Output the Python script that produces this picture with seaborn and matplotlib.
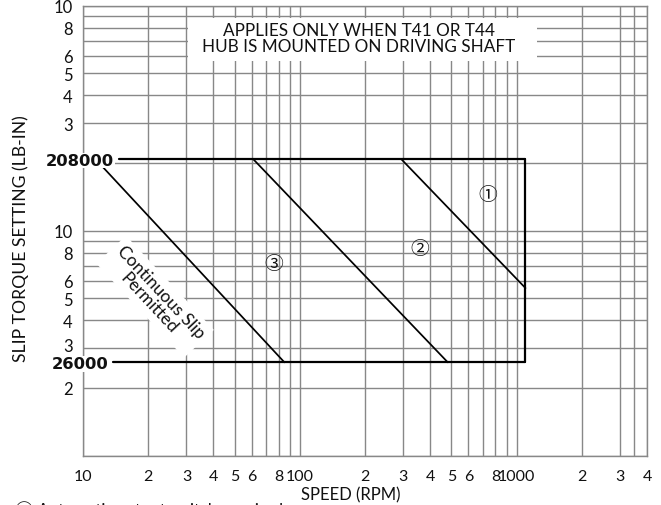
import numpy as np
import pandas as pd
import matplotlib
matplotlib.use("Agg")
import matplotlib.pyplot as plt
import matplotlib.ticker as mticker
from matplotlib.patches import Rectangle
from matplotlib.transforms import blended_transform_factory, offset_copy
import seaborn as sns

# ---------------- data ----------------
x_ticks = [10, 20, 30, 40, 50, 60, 70, 80, 90, 100, 200, 300, 400, 500, 600, 700, 800, 900,
           1000, 2000, 3000, 3500, 4000]
x_tick_labels = ['10', '2', '3', '4', '5', '6', '', '8', '', '100', '2', '3', '4', '5', '6', '', '8', '',
                 '1000', '2', '3', '', '4']
y_ticks = [1e4, 2e4, 3e4, 4e4, 5e4, 6e4, 7e4, 8e4, 9e4,
           1e5, 2e5, 3e5, 4e5, 5e5, 6e5, 7e5, 8e5, 9e5, 1e6]
y_tick_labels = ['', '2', '', '4', '5', '6', '', '8', '',
                 '10', '', '3', '4', '5', '6', '', '8', '', '10']
# the "3" label at 30000 sits a little above its grid line (as in the source chart)
raised_tick_value = 3e4
raised_tick_label = '3'

limit_torque = [208000, 26000]
limit_labels = ['208000', '26000']

frame_seg = ['top', 'top', 'bottom', 'bottom', 'right', 'right']
frame_speed = [14.6, 1100, 13.7, 1100, 1100, 1100]
frame_torque = [208000, 208000, 26000, 26000, 26000, 208000]

diag_seg = ['1', '1', '2', '2', '3', '3']
diag_speed = [294, 1100, 61, 482, 11.8, 85]
diag_torque = [208000, 55600, 208000, 26000, 201000, 26000]

zone_labels = ['\u2460', '\u2461', '\u2462']
zone_speed = [735, 357, 76]
zone_torque = [145000, 83200, 71300]

note_text = "APPLIES ONLY WHEN T41 OR T44\nHUB IS MOUNTED ON DRIVING SHAFT"
slip_text = "Continuous Slip\nPermitted"
footnote = "\u2460 Automatic cutout switch required"

# ---------------- style ----------------
sns.set_theme(style="white")
plt.rcParams['font.family'] = ['Lato', 'DejaVu Sans', 'Noto Sans CJK JP']
GRID = '#888888'
INK = '#111111'

W, H = 661, 506
fig = plt.figure(figsize=(W / 100, H / 100), dpi=100)
L, R, T, B = 83, 647, 6.7, 456.7
ax = fig.add_axes([L / W, 1 - B / H, (R - L) / W, (B - T) / H])

frame_df = pd.DataFrame({'seg': frame_seg, 'speed': frame_speed, 'torque': frame_torque})
diag_df = pd.DataFrame({'seg': diag_seg, 'speed': diag_speed, 'torque': diag_torque})

sns.lineplot(data=frame_df, x='speed', y='torque', units='seg', estimator=None, sort=False,
             color='black', linewidth=1.6, ax=ax, zorder=3)
sns.lineplot(data=diag_df, x='speed', y='torque', units='seg', estimator=None, sort=False,
             color='black', linewidth=1.25, ax=ax, zorder=3)

ax.set_xscale('log')
ax.set_yscale('log')
ax.set_xlim(10, 4000)
ax.set_ylim(1e4, 1e6)

ax.xaxis.set_major_locator(mticker.FixedLocator(x_ticks))
ax.xaxis.set_major_formatter(mticker.FixedFormatter(x_tick_labels))
ax.xaxis.set_minor_locator(mticker.NullLocator())
ax.yaxis.set_major_locator(mticker.FixedLocator(y_ticks))
ax.yaxis.set_major_formatter(mticker.FixedFormatter(y_tick_labels))
ax.yaxis.set_minor_locator(mticker.NullLocator())

TICK_LEN = 6.5
ax.set_axisbelow(True)
ax.grid(True, which='major', color=GRID, linewidth=1.0)
ax.tick_params(axis='both', which='major', length=TICK_LEN, width=1.0, color=GRID,
               labelsize=12, labelcolor=INK, direction='out')
ax.tick_params(axis='y', pad=1)
ax.tick_params(axis='x', pad=3, labelsize=11.5)
for s in ax.spines.values():
    s.set_color(GRID)
    s.set_linewidth(1.0)

ax.set_xlabel('')
ax.set_ylabel('')

base = blended_transform_factory(ax.transAxes, ax.transData)

# raised "3" tick label
ax.text(0, raised_tick_value, raised_tick_label,
        transform=offset_copy(base, fig=fig, x=-(TICK_LEN + 1), y=2.5, units='points'),
        ha='right', va='center_baseline', fontsize=12, color=INK, clip_on=False)

# bold limit labels
trans = offset_copy(base, fig=fig, x=0, y=-1, units='points')
for val, lab in zip(limit_torque, limit_labels):
    ax.text(-0.005, val, lab, transform=trans, ha='center', va='center',
            fontsize=11.8, fontweight='bold', family=['DejaVu Sans'], color=INK,
            bbox=dict(boxstyle='square,pad=0.02', fc='white', ec='none'), zorder=5, clip_on=False)

# note box
ax.add_patch(Rectangle(((188 - L) / (R - L), (B - 62) / (B - T)), (537 - 188) / (R - L), (62 - 19) / (B - T),
                       transform=ax.transAxes, facecolor='white', edgecolor='none', zorder=2))
ax.text((359 - L) / (R - L), (B - 39.5) / (B - T), note_text, transform=ax.transAxes,
        ha='center', va='center', fontsize=12.3, linespacing=1.0, color=INK, zorder=4)

# continuous slip text
ax.text(21.5, 50900, slip_text, ha='center', va='center', rotation=-47, rotation_mode='anchor',
        fontsize=12.5, linespacing=1.0, color=INK, zorder=4,
        bbox=dict(boxstyle='square,pad=0.25', fc='white', ec='none'))

# zone labels
for lab, sx, ty in zip(zone_labels, zone_speed, zone_torque):
    ax.text(sx, ty, lab, ha='center', va='center', fontsize=13.5, color=INK, zorder=4,
            family=['Noto Sans CJK JP', 'DejaVu Sans'])

fig.text(351 / W, 1 - 495 / H, 'SPEED (RPM)', ha='center', va='center', fontsize=12, color=INK)
fig.text(21 / W, 1 - 239 / H, 'SLIP TORQUE SETTING (LB-IN)', ha='center', va='center',
         rotation=90, fontsize=12.6, color=INK)
fig.text(15 / W, 1 - 501 / H, footnote, ha='left', va='top', fontsize=12, color=INK,
         family=['Lato', 'Noto Sans CJK JP', 'DejaVu Sans'])

fig.savefig('out.png', dpi=100)
